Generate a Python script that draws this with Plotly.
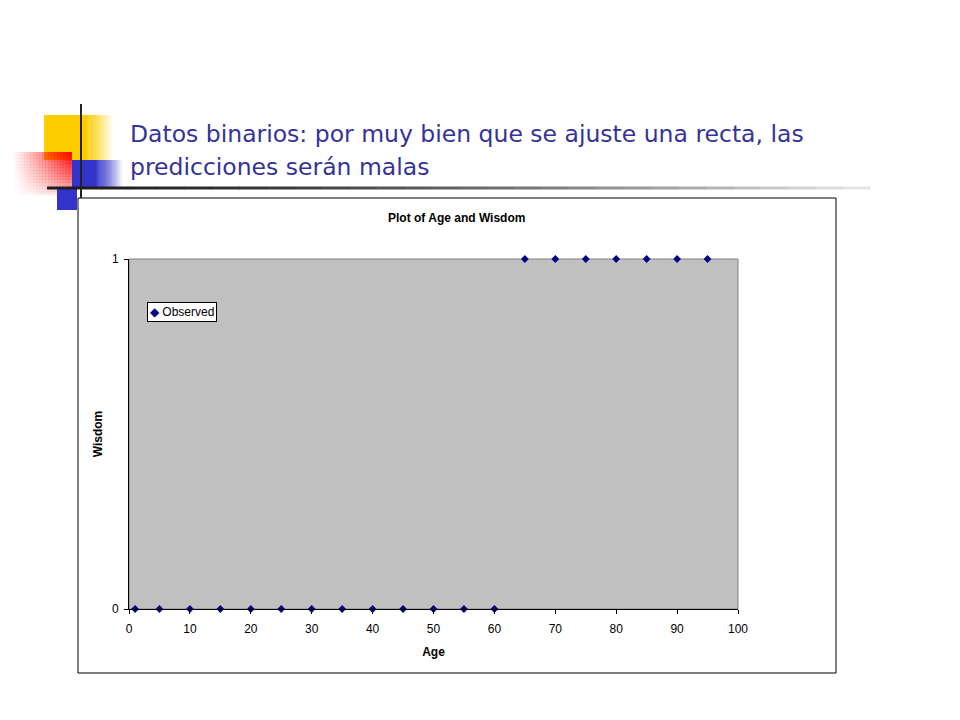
import plotly.graph_objects as go

# Datos: edad y sabiduria (0/1)
edad = [1, 5, 10, 15, 20, 25, 30, 35, 40, 45, 50, 55, 60, 65, 70, 75, 80, 85, 90, 95]
sabiduria = [0, 0, 0, 0, 0, 0, 0, 0, 0, 0, 0, 0, 0, 1, 1, 1, 1, 1, 1, 1]
x_ticks = [0, 10, 20, 30, 40, 50, 60, 70, 80, 90, 100]
y_ticks = [0, 1]

W, H = 960, 720
OFF = 8  # margen del body de la pagina
L, R, T, B = 129, 738, 259, 609  # area del grafico en pixeles (pantalla)


def px(x):
    return (x - L) / (R - L)


def py(y):
    return (B - y) / (B - T)


def rect(x0, y0, x1, y1, color, opacity=1.0, line=None):
    return dict(type='rect', xref='paper', yref='paper', layer='below',
                x0=px(x0), x1=px(x1), y0=py(y0), y1=py(y1),
                fillcolor=color, opacity=opacity,
                line=line or dict(width=0))


shapes = []

# caja exterior del grafico y fondo gris del area de trazado
shapes.append(rect(78, 198, 836, 673, 'white', line=dict(color='black', width=1)))
shapes.append(rect(L, T, R, B, '#C0C0C0', line=dict(color='#808080', width=1)))

# decoracion de la diapositiva (degradados con tiras)
n = 24
shapes.append(rect(44, 115, 86, 160, '#FFCC00'))
for i in range(n):
    x0 = 86 + i * (26 / n)
    shapes.append(rect(x0, 115, x0 + 26 / n + 0.3, 160, '#FFCC00', 1 - (i + 1) / (n + 1)))
shapes.append(rect(72, 160, 96, 188, '#3333CC'))
for i in range(n):
    x0 = 96 + i * (26 / n)
    shapes.append(rect(x0, 160, x0 + 26 / n + 0.3, 188, '#3333CC', 1 - (i + 1) / (n + 1)))
nx, ny = 20, 14
for i in range(nx):
    for j in range(ny):
        x1 = 72 - i * (59 / nx)
        y0 = 152 + j * (43 / ny)
        a = (1 - i / nx) ** 1.2 * (1 - j / ny) ** 0.7
        shapes.append(rect(x1 - 59 / nx - 0.3, y0, x1, y0 + 43 / ny + 0.3, '#FF0000', 0.95 * a))
shapes.append(rect(57, 188, 77, 210, '#3333CC'))

# lineas negras
shapes.append(dict(type='line', xref='paper', yref='paper', x0=px(81), x1=px(81),
                   y0=py(104), y1=py(198), line=dict(color='#222222', width=2)))
m = 30
for i in range(m):
    xa = 47 + i * (823 / m)
    shade = int(30 + 210 * (i / m) ** 1.5)
    shapes.append(dict(type='line', xref='paper', yref='paper', x0=px(xa), x1=px(xa + 823 / m + 0.5),
                       y0=py(188), y1=py(188), layer='below',
                       line=dict(color='rgb(%d,%d,%d)' % (shade, shade, shade), width=3)))

fig = go.Figure()
fig.add_trace(go.Scatter(x=edad, y=sabiduria, mode='markers', name='Observed',
                         marker=dict(symbol='diamond', size=6, color='#000080'),
                         cliponaxis=False))

fig.update_layout(
    width=W, height=H,
    margin=dict(l=L - OFF, r=W - R + OFF, t=T - OFF, b=H - B + OFF),
    paper_bgcolor='white',
    plot_bgcolor='#C0C0C0',
    shapes=shapes,
    font=dict(family='Arial, Liberation Sans, sans-serif', size=11, color='black'),
    showlegend=False,
    xaxis=dict(range=[0, 100], tickvals=x_ticks, showgrid=False, zeroline=False,
               showline=True, linecolor='black', ticks='outside', ticklen=4,
               tickcolor='black', tickfont=dict(size=12), ticklabelstandoff=5,
               title=dict(text='<b>Age</b>', font=dict(size=12), standoff=12)),
    yaxis=dict(range=[0, 1], tickvals=y_ticks, showgrid=False, zeroline=False,
               showline=True, linecolor='black', ticks='outside', ticklen=4,
               tickcolor='black', tickfont=dict(size=12), ticklabelstandoff=3,
               title=dict(text='<b>Wisdom</b>', font=dict(size=12), standoff=6)),
    annotations=[
        dict(text='<b>Plot of Age and Wisdom</b>', xref='paper', yref='paper',
             x=px(456), y=py(218), yanchor='middle', showarrow=False, font=dict(size=12)),
        dict(text='<span style="color:#000080">◆</span> Observed', xref='paper', yref='paper',
             x=px(147), y=py(312), xanchor='left', yanchor='middle', showarrow=False,
             bgcolor='white', bordercolor='black', borderwidth=1, borderpad=2,
             font=dict(size=12)),
        dict(text='Datos binarios: por muy bien que se ajuste una recta, las',
             xref='paper', yref='paper', x=px(128), y=py(134), xanchor='left', yanchor='middle',
             showarrow=False,
             font=dict(family='DejaVu Sans, Verdana, sans-serif', size=23.5, color='#333399')),
        dict(text='predicciones serán malas',
             xref='paper', yref='paper', x=px(128), y=py(167), xanchor='left', yanchor='middle',
             showarrow=False,
             font=dict(family='DejaVu Sans, Verdana, sans-serif', size=23.5, color='#333399')),
    ],
)

fig.write_html("out.html")
